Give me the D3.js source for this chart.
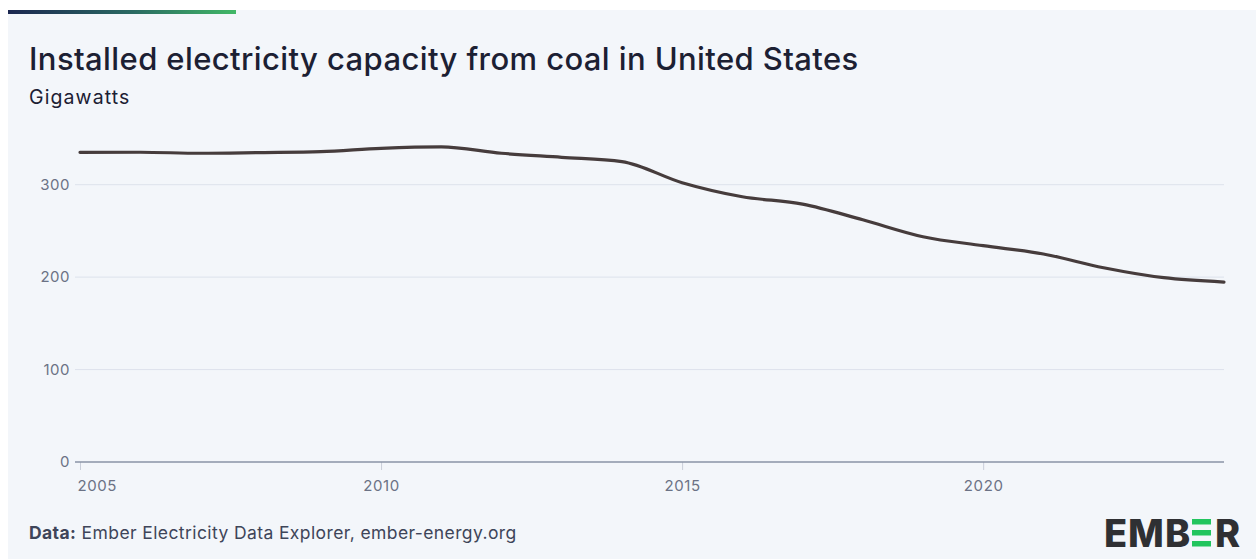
<!DOCTYPE html>
<html>
<head>
<meta charset="utf-8">
<script src="https://cdn.jsdelivr.net/npm/d3@7"></script>
<style>
  html, body { margin: 0; padding: 0; background: #ffffff; }
  svg { display: block; }
  text { font-family: "Inter", "Open Sans", sans-serif; }
</style>
</head>
<body>
<svg id="chart" width="1256" height="559"></svg>
<script>
// Installed coal capacity in the United States, GW
const years = [2005, 2006, 2007, 2008, 2009, 2010, 2011, 2012, 2013, 2014,
               2015, 2016, 2017, 2018, 2019, 2020, 2021, 2022, 2023, 2024];
const capacityGW = [335, 335.1, 334, 334.8, 335.8, 339.4, 341, 334, 329.6, 325,
                    302.2, 287, 279, 262, 243.7, 234, 225, 210.2, 199.4, 194.7];
const yTicks = [0, 100, 200, 300];
const xTicks = [2005, 2010, 2015, 2020];

const titleText = "Installed electricity capacity from coal in United States";
const subtitleText = "Gigawatts";

const W = 1256, H = 559;
const svg = d3.select("#chart");

// panel background
svg.append("rect").attr("x", 8).attr("y", 10).attr("width", W - 8).attr("height", H - 10)
  .attr("fill", "#f3f6fa");

// accent bar at top
const defs = svg.append("defs");
const grad = defs.append("linearGradient").attr("id", "accent").attr("x1", "0").attr("x2", "1");
grad.append("stop").attr("offset", "0%").attr("stop-color", "#1b2750");
grad.append("stop").attr("offset", "55%").attr("stop-color", "#2a6a62");
grad.append("stop").attr("offset", "100%").attr("stop-color", "#41b867");
svg.append("rect").attr("x", 8).attr("y", 10).attr("width", 228).attr("height", 4)
  .attr("fill", "url(#accent)");

// titles
svg.append("text").attr("x", 29).attr("y", 70)
  .attr("font-size", 31).attr("font-weight", 500).attr("fill", "#1c2033")
  .attr("letter-spacing", "0.4px")
  .text(titleText);
svg.append("text").attr("x", 29).attr("y", 104)
  .attr("font-size", 19.5).attr("fill", "#1c2033")
  .attr("letter-spacing", "1.1px")
  .text(subtitleText);

// scales
const x = d3.scaleLinear().domain([2005, 2024]).range([80, 1224]);
const y = d3.scaleLinear().domain([0, 300]).range([462, 184.7]);

// horizontal grid + y labels
const g = svg.append("g");
g.selectAll("line.grid").data(yTicks.filter(d => d > 0)).join("line")
  .attr("class", "grid")
  .attr("x1", 75).attr("x2", 1224)
  .attr("y1", d => y(d)).attr("y2", d => y(d))
  .attr("stroke", "#dde2ec").attr("stroke-width", 1);

g.selectAll("text.ylab").data(yTicks).join("text")
  .attr("class", "ylab")
  .attr("x", 70).attr("y", d => y(d)).attr("dy", "0.35em")
  .attr("text-anchor", "end").attr("font-size", 15).attr("letter-spacing", "0.5px")
  .attr("fill", "#6b7285")
  .text(d => d);

// x axis
const xAxis = svg.append("g").attr("transform", `translate(0,${y(0)})`)
  .call(d3.axisBottom(x).tickValues(xTicks).tickFormat(d3.format("d")).tickSize(8).tickPadding(10));
xAxis.select(".domain").remove();
xAxis.selectAll(".tick line").attr("stroke", "#c9ced9");
xAxis.selectAll(".tick text")
  .attr("font-size", 15).attr("fill", "#6b7285").attr("letter-spacing", "0.6px")
  .attr("font-family", "Inter, 'Open Sans', sans-serif")
  .attr("text-anchor", (d, i) => i === 0 ? "start" : "middle")
  .attr("dx", (d, i) => i === 0 ? -3 : 0);
svg.append("line").attr("x1", 75).attr("x2", 1224).attr("y1", y(0)).attr("y2", y(0))
  .attr("stroke", "#8a93a6").attr("stroke-width", 1.5);

// series line
const line = d3.line()
  .x((d, i) => x(years[i]))
  .y(d => y(d))
  .curve(d3.curveMonotoneX);
svg.append("path").datum(capacityGW)
  .attr("d", line)
  .attr("fill", "none").attr("stroke", "#463c3c")
  .attr("stroke-width", 3.2).attr("stroke-linecap", "round").attr("stroke-linejoin", "round");

// footer source
const src = svg.append("text").attr("x", 29).attr("y", 539).attr("font-size", 17.5)
  .attr("letter-spacing", "0.4px").attr("fill", "#3e4559");
src.append("tspan").attr("font-weight", 700).text("Data:");
src.append("tspan").text(" Ember Electricity Data Explorer, ember-energy.org");

// logo
const logo = svg.append("g");
const letters = [["E", 1104], ["M", 1128], ["B", 1165], ["R", 1215]];
logo.selectAll("text").data(letters).join("text")
  .attr("x", d => d[1]).attr("y", 547)
  .attr("font-size", 38).attr("font-weight", 800).attr("fill", "#2f3033")
  .attr("font-family", "'Liberation Sans', Arial, sans-serif")
  .text(d => d[0]);
[519, 530, 541].forEach(yy => {
  logo.append("rect").attr("x", 1192).attr("y", yy).attr("width", 19).attr("height", 5.5)
    .attr("fill", "#22c55e");
});
</script>
</body>
</html>
